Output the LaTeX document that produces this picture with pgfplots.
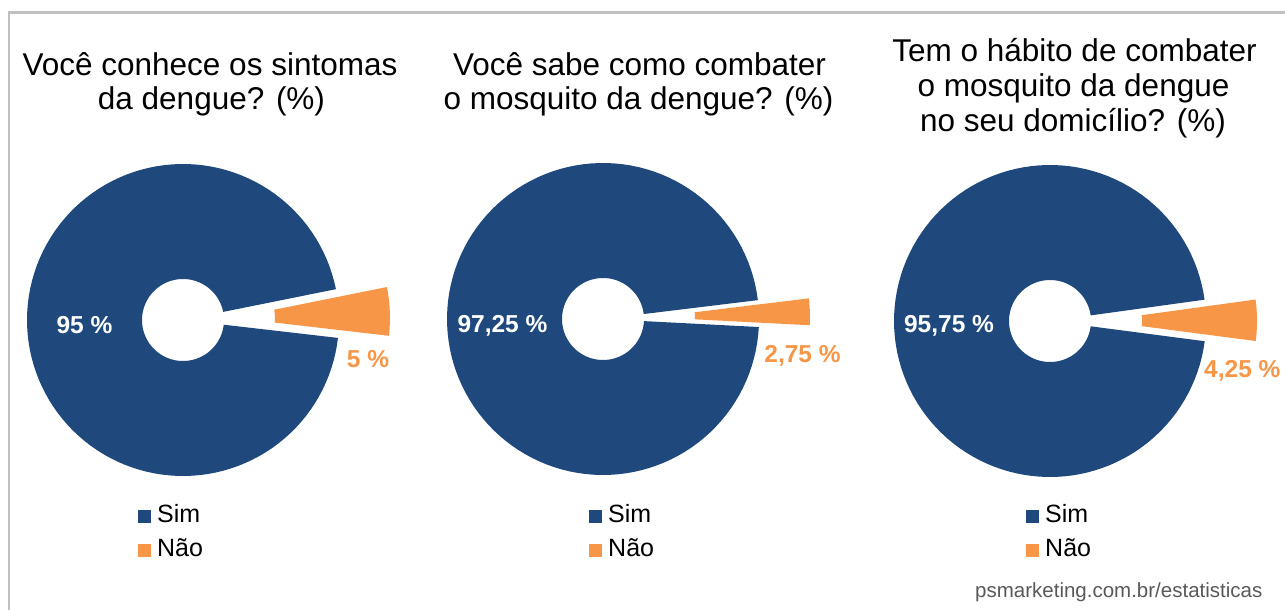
\documentclass[border=0pt]{standalone}
\usepackage{pgfplots}
\pgfplotsset{compat=1.18}
\usepackage{fontspec}
\setmainfont{Liberation Sans}
\definecolor{simblue}{HTML}{1F497D}
\definecolor{naoorange}{HTML}{F79646}
\definecolor{framegray}{HTML}{C0C0C0}
\definecolor{wmgray}{HTML}{595959}

% donut segment: #1 cx, #2 cy, #3 start angle, #4 end angle, #5 style
% outer radius 156, inner radius 41
\newcommand{\seg}[5]{%
  \addplot[#5, draw=none, domain=0:3, samples=361, variable=\t]
   ({#1+(156-115*min(max(\t-1,0),1))*cos((#3)+((#4)-(#3))*min(\t,1)-((#4)-(#3))*max(\t-2,0))},
    {#2+(156-115*min(max(\t-1,0),1))*sin((#3)+((#4)-(#3))*min(\t,1)-((#4)-(#3))*max(\t-2,0))});
}

\pgfplotsset{donutaxis/.style={
  at={(0,0)}, anchor=south west,
  width=1285bp, height=610bp, scale only axis,
  xmin=0, xmax=1285, ymin=0, ymax=610,
  hide axis, clip=false,
  legend cell align=left,
  legend style={draw=none, fill=none, inner sep=0pt, anchor=north west,
    row sep=16bp, font=\fontsize{25bp}{30bp}\selectfont,
    nodes={inner sep=0pt, text height=18bp, text depth=0pt},
    /tikz/every odd column/.append style={column sep=6bp}},
  legend image code/.code={\fill[##1] (0bp,-9bp) rectangle (13bp,4bp);},
}}

\tikzset{ttl/.style={anchor=base, font=\fontsize{31.5bp}{37bp}\selectfont, text=black, inner sep=0pt},
  pctw/.style={anchor=base, font=\bfseries\fontsize{24.5bp}{29bp}\selectfont, text=white, inner sep=0pt},
  pcto/.style={anchor=base, font=\bfseries\fontsize{24.5bp}{29bp}\selectfont, text=naoorange, inner sep=0pt}}

\begin{document}
\begin{tikzpicture}
\fill[white] (0,0) rectangle (1285bp,610bp);

% ---------- Chart 1: Sim 95, Nao 5 ----------
\begin{axis}[donutaxis, legend style={at={(0.10739,0.17295)}}]
  \draw[framegray, line width=3bp] (axis cs:9,597) -- (axis cs:1300,597);
  \draw[framegray, line width=2bp] (axis cs:9,598.5) -- (axis cs:9,-20);
  \seg{183}{290}{2.4+1.8*5}{2.4+1.8*5+3.6*95}{fill=simblue}
  \addlegendentry{Sim}
  \seg{183+51*cos(2.4)}{290+51*sin(2.4)}{2.4-1.8*5}{2.4+1.8*5}{fill=naoorange}
  \addlegendentry{Não}
  \node[ttl] at (axis cs:210,534) {Você conhece os sintomas};
  \node[ttl] at (axis cs:211.5,500) {da dengue? (\%)};
  \node[pctw] at (axis cs:84.5,277) {95 \%};
  \node[pcto] at (axis cs:368,243) {5 \%};
\end{axis}

% ---------- Chart 2: Sim 97,25, Nao 2,75 ----------
\begin{axis}[donutaxis, legend style={at={(0.45837,0.17295)}}]
  \seg{603}{291}{2+1.8*2.75}{2+1.8*2.75+3.6*97.25}{fill=simblue}
  \addlegendentry{Sim}
  \seg{603+51*cos(2)}{291+51*sin(2)}{2-1.8*2.75}{2+1.8*2.75}{fill=naoorange}
  \addlegendentry{Não}
  \node[ttl] at (axis cs:639.5,534) {Você sabe como combater};
  \node[ttl] at (axis cs:638.5,500) {o mosquito da dengue? (\%)};
  \node[pctw] at (axis cs:502.5,277) {97,25 \%};
  \node[pcto] at (axis cs:802.5,247) {2,75 \%};
\end{axis}

% ---------- Chart 3: Sim 95,75, Nao 4,25 ----------
\begin{axis}[donutaxis, legend style={at={(0.79844,0.17295)}}]
  \seg{1050}{289}{0.2+1.8*4.25}{0.2+1.8*4.25+3.6*95.75}{fill=simblue}
  \addlegendentry{Sim}
  \seg{1050+51*cos(0.2)}{289+51*sin(0.2)}{0.2-1.8*4.25}{0.2+1.8*4.25}{fill=naoorange}
  \addlegendentry{Não}
  \node[ttl] at (axis cs:1074.5,548) {Tem o hábito de combater};
  \node[ttl] at (axis cs:1073.5,513) {o mosquito da dengue};
  \node[ttl] at (axis cs:1073,478) {no seu domicílio? (\%)};
  \node[pctw] at (axis cs:949,277) {95,75 \%};
  \node[pcto, anchor=base west] at (axis cs:1204,232) {4,25 \%};
  \node[anchor=base west, inner sep=0pt, text=wmgray, font=\fontsize{20.5bp}{24bp}\selectfont] at (axis cs:975,12.3) {psmarketing.com.br/estatisticas};
\end{axis}

\pgfresetboundingbox
\useasboundingbox (0,0) rectangle (1285bp,610bp);
\end{tikzpicture}
\end{document}
